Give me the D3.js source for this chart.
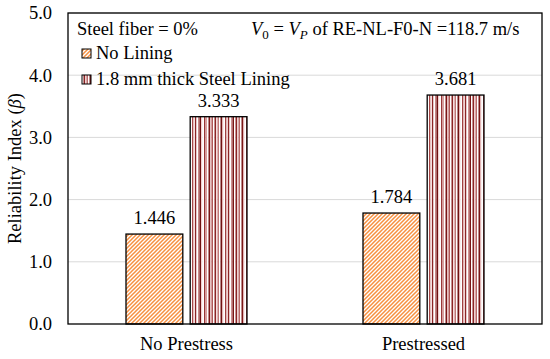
<!DOCTYPE html>
<html>
<head>
<meta charset="utf-8">
<script src="https://cdn.jsdelivr.net/npm/d3@7"></script>
<style>
  body { margin: 0; background: #fff; }
  svg text { font-family: "Liberation Serif", "Times New Roman", serif; fill: #000; }
</style>
</head>
<body>
<div class="container"></div>
<script>
"use strict";

var categories = ["No Prestress", "Prestressed"];
var seriesNames = ["No Lining", "1.8 mm thick Steel Lining"];
var noLining = [1.446, 1.784];
var steelLining = [3.333, 3.681];
var yTicks = [0, 1, 2, 3, 4, 5];

var W = 550, H = 359;
var m = { left: 68, right: 8, top: 13, bottom: 35 };
var w = W - m.left - m.right, h = H - m.top - m.bottom;
var fs = 18.5;

var svg = d3.select(".container").append("svg").attr("width", W).attr("height", H);
var defs = svg.append("defs");

//Orange diagonal hatch
var hatch = defs.append("pattern").attr("id", "hatch").attr("patternUnits", "userSpaceOnUse")
  .attr("width", 4).attr("height", 4);
hatch.append("rect").attr("width", 4).attr("height", 4).attr("fill", "#fff");
hatch.append("path").attr("d", "M-1,1 l2,-2 M0,4 l4,-4 M3,5 l2,-2")
  .attr("stroke", "#f79040").attr("stroke-width", 1.5);

//Red vertical stripes (mixed shades, like the reference fill)
var stripeCols = ["#fff", "#8b2525", "#f0d0d0", "#b86a6a", "#fff", "#7a1515", "#e2b4b4", "#fff",
  "#a84848", "#f5dede", "#8b2525", "#fff", "#c88888", "#6e1010", "#f0d0d0", "#fff",
  "#9a3535", "#d9a0a0", "#fff", "#7a1515", "#e8c0c0", "#b05858", "#fff", "#8b2525",
  "#f5dede", "#c07878", "#fff", "#701212", "#e2b4b4", "#fff", "#a04040", "#f0d0d0",
  "#8b2525", "#fff", "#d09090", "#7a1515"];
var sw = 1.5;
var stripes = defs.append("pattern").attr("id", "stripes").attr("patternUnits", "userSpaceOnUse")
  .attr("width", stripeCols.length * sw).attr("height", 10);
stripes.selectAll("rect").data(stripeCols).enter().append("rect")
  .attr("x", function (d, i) { return i * sw; }).attr("y", 0)
  .attr("width", sw).attr("height", 10).attr("fill", function (d) { return d; });

var g = svg.append("g").attr("transform", "translate(" + m.left + "," + m.top + ")");

var x0 = d3.scaleBand().domain(categories).range([0, w]);
var x1 = d3.scaleBand().domain(seriesNames).range([0, 121]).paddingInner(0.115);
var y = d3.scaleLinear().domain([0, 5]).range([h, 0]);

//Gridlines
g.selectAll(".grid").data(yTicks.slice(1)).enter().append("line")
  .attr("x1", 0).attr("x2", w)
  .attr("y1", function (d) { return y(d); }).attr("y2", function (d) { return y(d); })
  .attr("stroke", "#d9d9d9").attr("stroke-width", 1);

//Y axis
var yAxis = d3.axisLeft(y).tickValues(yTicks).tickFormat(d3.format(".1f")).tickSize(0).tickPadding(16);
g.append("g").call(yAxis).call(function (s) {
  s.select(".domain").remove();
  s.selectAll("text").style("font-size", fs + "px");
});

//X axis labels
var xAxis = d3.axisBottom(x0).tickSize(0).tickPadding(13);
g.append("g").attr("transform", "translate(0," + h + ")").call(xAxis).call(function (s) {
  s.select(".domain").remove();
  s.selectAll("text").style("font-size", fs + "px");
});

//Bars
var data = categories.map(function (c, i) {
  return [{ c: c, s: seriesNames[0], v: noLining[i], fill: "url(#hatch)" },
          { c: c, s: seriesNames[1], v: steelLining[i], fill: "url(#stripes)" }];
});
var groups = g.selectAll(".grp").data(data).enter().append("g")
  .attr("transform", function (d, i) { return "translate(" + (x0(categories[i]) + (x0.bandwidth() - 121) / 2) + ",0)"; });
groups.selectAll("rect").data(function (d) { return d; }).enter().append("rect")
  .attr("x", function (d) { return x1(d.s); })
  .attr("width", x1.bandwidth())
  .attr("y", function (d) { return y(d.v); })
  .attr("height", function (d) { return h - y(d.v); })
  .attr("fill", function (d) { return d.fill; })
  .attr("stroke", "#000").attr("stroke-width", 1.3);
groups.selectAll(".lbl").data(function (d) { return d; }).enter().append("text")
  .attr("x", function (d) { return x1(d.s) + x1.bandwidth() / 2; })
  .attr("y", function (d) { return y(d.v) - 10; })
  .attr("text-anchor", "middle").style("font-size", fs + "px")
  .text(function (d) { return d3.format(".3f")(d.v); });

//Plot border
g.append("rect").attr("width", w).attr("height", h).attr("fill", "none")
  .attr("stroke", "#000").attr("stroke-width", 1.3);

//Legend
g.append("text").attr("x", 9).attr("y", 22).style("font-size", fs + "px").text("Steel fiber = 0%");
var leg = g.selectAll(".leg").data([
  { name: seriesNames[0], fill: "url(#hatch)" },
  { name: seriesNames[1], fill: "url(#stripes)" }
]).enter().append("g")
  .attr("transform", function (d, i) { return "translate(14," + (46 + i * 26) + ")"; });
leg.append("rect").attr("x", 0).attr("y", -10).attr("width", 9).attr("height", 9)
  .attr("fill", function (d) { return d.fill; }).attr("stroke", "#000").attr("stroke-width", 1);
leg.append("text").attr("x", 14).attr("y", 0).style("font-size", fs + "px").text(function (d) { return d.name; });

//Annotation
var ann = g.append("text").attr("x", 183).attr("y", 22).style("font-size", fs + "px");
ann.append("tspan").attr("font-style", "italic").text("V");
ann.append("tspan").style("font-size", "13px").attr("dy", 4).text("0");
ann.append("tspan").attr("dy", -4).text(" = ");
ann.append("tspan").attr("font-style", "italic").text("V");
ann.append("tspan").attr("font-style", "italic").style("font-size", "13px").attr("dy", 4).text("P");
ann.append("tspan").attr("dy", -4).text(" of RE-NL-F0-N =118.7 m/s");

//Y label
var yl = svg.append("text").attr("transform", "translate(21," + (m.top + h / 2) + ") rotate(-90)")
  .attr("text-anchor", "middle").style("font-size", fs + "px");
yl.append("tspan").text("Reliability Index (");
yl.append("tspan").attr("font-style", "italic").text("β");
yl.append("tspan").text(")");
</script>
</body>
</html>
